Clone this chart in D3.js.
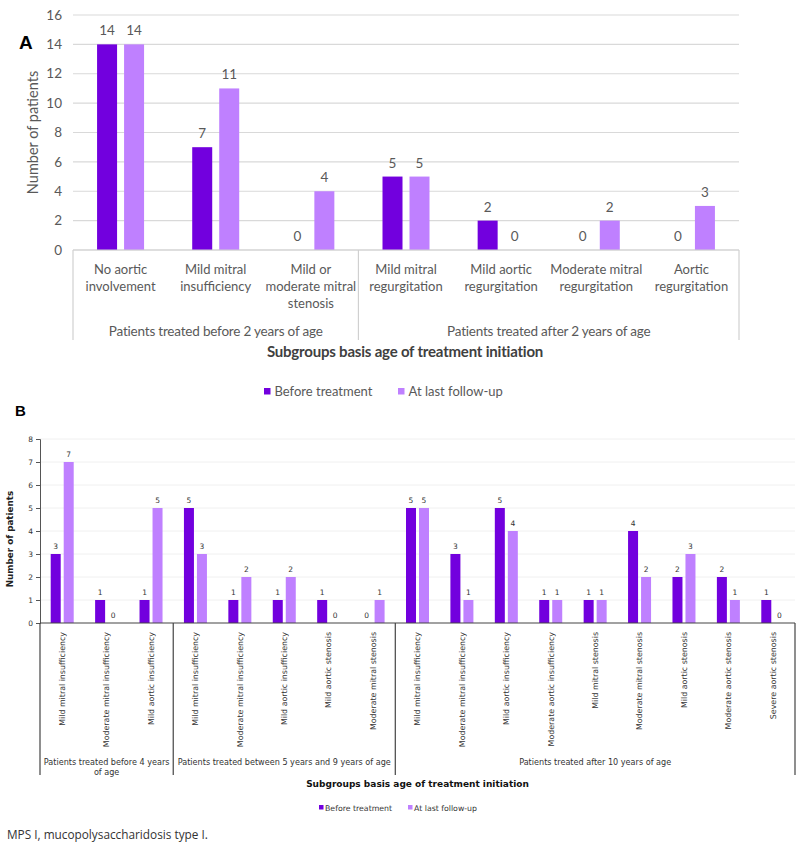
<!DOCTYPE html>
<html><head><meta charset="utf-8">
<script src="https://cdn.jsdelivr.net/npm/d3@7"></script>
<style>
html,body{margin:0;padding:0;background:#fff;}
svg{display:block;}
</style>
</head><body>
<svg id="c" width="798" height="849"></svg>
<script>
// ---------- Data: panel A ----------
const catsA = [
  ["No aortic","involvement"],
  ["Mild mitral","insufficiency"],
  ["Mild or","moderate mitral","stenosis"],
  ["Mild mitral","regurgitation"],
  ["Mild aortic","regurgitation"],
  ["Moderate mitral","regurgitation"],
  ["Aortic","regurgitation"]
];
const beforeA = [14, 7, 0, 5, 2, 0, 0];
const afterA  = [14, 11, 4, 5, 0, 2, 3];
const groupsA = ["Patients treated before 2 years of age", "Patients treated after 2 years of age"];
const groupSizesA = [3, 4];
const ticksA = [0, 2, 4, 6, 8, 10, 12, 14, 16];

// ---------- Data: panel B ----------
const catsB = [
  "Mild mitral insufficiency","Moderate mitral insufficiency","Mild aortic insufficiency",
  "Mild mitral insufficiency","Moderate mitral insufficiency","Mild aortic insufficiency","Mild aortic stenosis","Moderate mitral stenosis",
  "Mild mitral insufficiency","Moderate mitral insufficiency","Mild aortic insufficiency","Moderate aortic insufficiency","Mild mitral stenosis","Moderate mitral stenosis","Mild aortic stenosis","Moderate aortic stenosis","Severe aortic stenosis"
];
const beforeB = [3,1,1, 5,1,1,1,0, 5,3,5,1,1,4,2,2,1];
const afterB  = [7,0,5, 3,2,2,0,1, 5,1,4,1,1,2,3,1,0];
const groupsB = [["Patients treated before 4 years","of age"], ["Patients treated between 5 years and 9 years of age"], ["Patients treated after 10 years of age"]];
const groupSizesB = [3, 5, 9];
const ticksB = [0,1,2,3,4,5,6,7,8];

const seriesNames = ["Before treatment", "At last follow-up"];
const colors = ["#7200DE", "#BF80FF"];

const svg = d3.select("#c");

// ================= PANEL A =================
(function(){
  const fA = "Lato, 'Open Sans', sans-serif";
  const tc = "#595959";
  const L = 73, R = 739, T = 15, B0 = 250, boxBottom = 340;
  const y = d3.scaleLinear().domain([0,16]).range([B0, T]);
  const x = d3.scaleBand().domain(d3.range(catsA.length)).range([L, R]).paddingInner(0).paddingOuter(0);
  const bw = x.bandwidth();
  const x1 = d3.scaleBand().domain([0,1]).range([bw/2-23.5, bw/2+23.5]).paddingInner(7/27).paddingOuter(0);
  const g = svg.append("g");

  g.selectAll("line.grid").data(ticksA).join("line")
    .attr("x1", L).attr("x2", R).attr("y1", d=>y(d)).attr("y2", d=>y(d))
    .attr("stroke", "#d9d9d9").attr("stroke-width", 1.2);
  g.selectAll("text.yt").data(ticksA).join("text")
    .attr("x", 62).attr("y", d=>y(d)).attr("dy","0.35em")
    .attr("text-anchor","end").attr("font-family", fA).attr("font-size", 13.5).attr("fill", tc)
    .text(d=>d);
  g.append("text").attr("transform", `translate(38,${(T+B0)/2}) rotate(-90)`)
    .attr("text-anchor","middle").attr("font-family", fA).attr("font-size", 14.5).attr("fill", tc)
    .text("Number of patients");
  g.append("text").attr("x", 19).attr("y", 49).attr("font-family","'Liberation Sans', Arial, sans-serif")
    .attr("font-weight","bold").attr("font-size", 19).attr("fill","#000").text("A");

  const series = [beforeA, afterA];
  series.forEach((vals, si) => {
    g.selectAll(null).data(vals).join("rect")
      .attr("x", (d,i)=>x(i)+x1(si)).attr("width", x1.bandwidth())
      .attr("y", d=>y(d)).attr("height", d=>B0 - y(d))
      .attr("fill", colors[si]);
    g.selectAll(null).data(vals).join("text")
      .attr("x", (d,i)=>x(i)+x1(si)+x1.bandwidth()/2).attr("y", d=>y(d)-9)
      .attr("text-anchor","middle").attr("font-family", fA).attr("font-size", 13.5).attr("fill", tc)
      .text(d=>d);
  });

  g.append("line").attr("x1", L).attr("x2", R).attr("y1", B0).attr("y2", B0).attr("stroke","#d0d0d0").attr("stroke-width",1.2);
  let acc = 0; const seps = [0];
  groupSizesA.forEach(n=>{acc+=n; seps.push(acc);});
  g.selectAll("line.sep").data(seps).join("line")
    .attr("x1", d=> d<catsA.length ? x(d) : R).attr("x2", d=> d<catsA.length ? x(d) : R)
    .attr("y1", B0).attr("y2", boxBottom).attr("stroke","#d0d0d0").attr("stroke-width",1.2);
  catsA.forEach((lines, i) => {
    const t = g.append("text").attr("text-anchor","middle").attr("font-family", fA).attr("font-size", 13).attr("fill", tc);
    lines.forEach((ln, k) => {
      t.append("tspan").attr("x", x(i)+bw/2).attr("y", 274 + k*17).text(ln);
    });
  });
  groupsA.forEach((gl, gi) => {
    const a = seps[gi], b = seps[gi+1];
    const x0 = x(a), xe = b<catsA.length ? x(b) : R;
    g.append("text").attr("x", (x0+xe)/2).attr("y", 336).attr("text-anchor","middle")
      .attr("font-family", fA).attr("font-size", 13.5).attr("fill", tc).attr("letter-spacing", -0.2).text(gl);
  });
  g.append("text").attr("x", 405).attr("y", 357).attr("text-anchor","middle")
    .attr("font-family", fA).attr("font-weight","bold").attr("font-size", 15).attr("fill", "#404040")
    .attr("letter-spacing", -0.2)
    .text("Subgroups basis age of treatment initiation");
  const lg = [{x:264, t:seriesNames[0], c:colors[0]}, {x:398, t:seriesNames[1], c:colors[1]}];
  lg.forEach(d=>{
    g.append("rect").attr("x", d.x).attr("y", 388).attr("width", 6.5).attr("height", 6.5).attr("fill", d.c);
    g.append("text").attr("x", d.x+10.5).attr("y", 396).attr("font-family", fA).attr("font-size", 13).attr("fill", tc).text(d.t);
  });
})();

// ================= PANEL B =================
(function(){
  const fB = "'DejaVu Sans', Verdana, sans-serif";
  const tc = "#333";
  const L = 40, R = 795, T = 439, B0 = 623, boxBottom = 775;
  const y = d3.scaleLinear().domain([0,8]).range([B0, T]);
  const x = d3.scaleBand().domain(d3.range(catsB.length)).range([L, R]).paddingInner(0).paddingOuter(0);
  const bw = x.bandwidth();
  const x1 = d3.scaleBand().domain([0,1]).range([bw/2-11.5, bw/2+11.5]).paddingInner(3/13).paddingOuter(0);
  const g = svg.append("g");

  g.append("text").attr("x", 15).attr("y", 416).attr("font-family","'Liberation Sans', Arial, sans-serif")
    .attr("font-weight","bold").attr("font-size", 15).attr("fill","#000").text("B");

  g.selectAll(null).data(ticksB.slice(1)).join("line")
    .attr("x1", L).attr("x2", R).attr("y1", d=>y(d)).attr("y2", d=>y(d))
    .attr("stroke", "#f0f0f0").attr("stroke-width", 1);
  const ya = d3.axisLeft(y).tickValues(ticksB).tickSize(4).tickPadding(3);
  const yg = g.append("g").attr("transform", `translate(${L},0)`).call(ya);
  yg.select(".domain").attr("stroke","#555");
  yg.selectAll(".tick line").attr("stroke","#555");
  yg.selectAll(".tick text").attr("font-family", fB).attr("font-size", 7.5).attr("fill", tc);
  g.append("text").attr("transform", `translate(13,${(T+B0)/2+8}) rotate(-90)`)
    .attr("text-anchor","middle").attr("font-family", fB).attr("font-weight","bold").attr("font-size", 8.8).attr("fill", "#222")
    .text("Number of patients");

  const series = [beforeB, afterB];
  series.forEach((vals, si) => {
    g.selectAll(null).data(vals).join("rect")
      .attr("x", (d,i)=>x(i)+x1(si)).attr("width", x1.bandwidth())
      .attr("y", d=>y(d)).attr("height", d=>B0 - y(d))
      .attr("fill", colors[si]);
    g.selectAll(null).data(vals).join("text")
      .attr("x", (d,i)=>x(i)+x1(si)+x1.bandwidth()/2).attr("y", d=>y(d)-5)
      .attr("text-anchor","middle").attr("font-family", fB).attr("font-size", 7.5).attr("fill", tc)
      .text(d=>d);
  });

  g.append("line").attr("x1", L).attr("x2", R).attr("y1", B0).attr("y2", B0).attr("stroke","#444").attr("stroke-width",1.2);
  let acc = 0; const seps = [0];
  groupSizesB.forEach(n=>{acc+=n; seps.push(acc);});
  g.selectAll("line.sepb").data(seps).join("line")
    .attr("x1", d=> d<catsB.length ? x(d) : R).attr("x2", d=> d<catsB.length ? x(d) : R)
    .attr("y1", B0).attr("y2", boxBottom).attr("stroke","#444").attr("stroke-width",1.2);
  g.selectAll(null).data(catsB).join("text")
    .attr("transform", (d,i)=>`translate(${x(i)+bw/2+2.8},632) rotate(-90)`)
    .attr("text-anchor","end").attr("font-family", fB).attr("font-size", 7.9).attr("fill", tc)
    .text(d=>d);
  groupsB.forEach((lines, gi) => {
    const a = seps[gi], b = seps[gi+1];
    const x0 = x(a), xe = b<catsB.length ? x(b) : R;
    const t = g.append("text").attr("text-anchor","middle").attr("font-family", fB).attr("font-size", 8.1).attr("fill", tc);
    lines.forEach((ln,k)=>t.append("tspan").attr("x",(x0+xe)/2).attr("y", 765 + k*10).text(ln));
  });
  g.append("text").attr("x", (L+R)/2).attr("y", 787).attr("text-anchor","middle")
    .attr("font-family", fB).attr("font-weight","bold").attr("font-size", 9).attr("fill", "#111")
    .text("Subgroups basis age of treatment initiation");
  const lg = [{x:319, t:seriesNames[0], c:colors[0]}, {x:408, t:seriesNames[1], c:colors[1]}];
  lg.forEach(d=>{
    g.append("rect").attr("x", d.x).attr("y", 805).attr("width", 4.5).attr("height", 4.5).attr("fill", d.c);
    g.append("text").attr("x", d.x+6).attr("y", 810.5).attr("font-family", fB).attr("font-size", 7.8).attr("fill", tc).text(d.t);
  });
  g.append("text").attr("x", 7).attr("y", 839).attr("font-family", "'Open Sans', sans-serif").attr("font-size", 11.8).attr("fill", "#333")
    .text("MPS I, mucopolysaccharidosis type I.");
})();
</script>
</body></html>
